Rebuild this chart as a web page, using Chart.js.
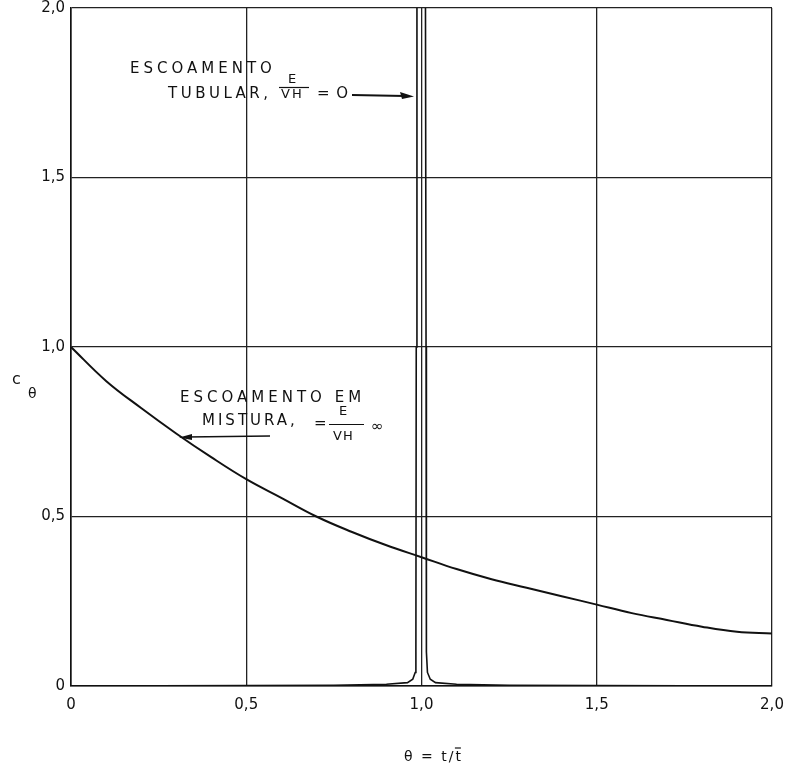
<!DOCTYPE html>
<html>
<head>
<meta charset="utf-8">
<script src="https://cdn.jsdelivr.net/npm/chart.js@4"></script>
<style>
  html, body { margin: 0; padding: 0; background: #fff; }
  #wrap { width: 791px; height: 770px; position: relative; }
</style>
</head>
<body>
<div id="wrap"><canvas id="c" width="791" height="770"></canvas></div>
<script>
// Mixed flow (E/VH = infinity) curve
const thetaMix = [0, 0.1, 0.2, 0.3, 0.4, 0.5, 0.6, 0.7, 0.8, 0.9, 1.0, 1.1, 1.2, 1.3, 1.4, 1.5, 1.6, 1.7, 1.8, 1.9, 2.0];
const cMix     = [1.0, 0.90, 0.82, 0.745, 0.675, 0.61, 0.555, 0.50, 0.455, 0.415, 0.38, 0.345, 0.315, 0.29, 0.265, 0.24, 0.215, 0.195, 0.175, 0.16, 0.155];

// Plug flow (E/VH = 0) spike around theta = 1
const thetaPlug = [0, 0.75, 0.9, 0.96, 0.975, 0.982, 0.984, 0.985, 0.987, 1.011, 1.013, 1.014, 1.017, 1.025, 1.04, 1.1, 1.25, 2.0];
const cPlug     = [0, 0.002, 0.005, 0.01, 0.02, 0.04, 0.1, 1.0, 2.2, 2.2, 1.0, 0.1, 0.04, 0.02, 0.01, 0.005, 0.002, 0];

const xTickLabels = ['0', '0,5', '1,0', '1,5', '2,0'];
const yTickLabels = ['0', '0,5', '1,0', '1,5', '2,0'];

const FONT = '"DejaVu Sans", sans-serif';

const annot = {
  id: 'annot',
  afterDraw(chart) {
    const ctx = chart.ctx;
    ctx.save();
    ctx.fillStyle = '#111';
    ctx.strokeStyle = '#111';
    ctx.textBaseline = 'middle';
    ctx.textAlign = 'left';
    ctx.font = '15px ' + FONT;
    ctx.letterSpacing = '4px';
    // upper annotation
    ctx.fillText('ESCOAMENTO', 130, 69);
    ctx.letterSpacing = '3.5px';
    ctx.fillText('TUBULAR,', 168, 94);
    ctx.letterSpacing = '2px';
    ctx.font = '13px ' + FONT;
    ctx.fillText('E', 288, 80);
    ctx.fillText('VH', 281, 95);
    ctx.lineWidth = 1.2;
    ctx.beginPath(); ctx.moveTo(279, 87.5); ctx.lineTo(309, 87.5); ctx.stroke();
    ctx.font = '15px ' + FONT;
    ctx.letterSpacing = '1px';
    ctx.fillText('= O', 317, 94);
    // arrow to spike
    ctx.lineWidth = 2;
    ctx.beginPath(); ctx.moveTo(352, 95); ctx.lineTo(405, 96); ctx.stroke();
    ctx.beginPath(); ctx.moveTo(414, 96.5); ctx.lineTo(400, 92); ctx.lineTo(402, 99); ctx.closePath(); ctx.fill();

    // lower annotation
    ctx.letterSpacing = '4px';
    ctx.font = '15px ' + FONT;
    ctx.fillText('ESCOAMENTO EM', 180, 398);
    ctx.letterSpacing = '3px';
    ctx.fillText('MISTURA,', 202, 421);
    ctx.letterSpacing = '1px';
    ctx.fillText('=', 314, 424);
    ctx.font = '13px ' + FONT;
    ctx.fillText('E', 339, 412);
    ctx.fillText('VH', 333, 437);
    ctx.lineWidth = 1.2;
    ctx.beginPath(); ctx.moveTo(329, 424.5); ctx.lineTo(364, 424.5); ctx.stroke();
    ctx.font = '15px ' + FONT;
    ctx.fillText('∞', 371, 427);
    // arrow pointing left
    ctx.lineWidth = 1.6;
    ctx.beginPath(); ctx.moveTo(270, 436); ctx.lineTo(186, 437); ctx.stroke();
    ctx.beginPath(); ctx.moveTo(179, 437.5); ctx.lineTo(192, 434); ctx.lineTo(192, 440); ctx.closePath(); ctx.fill();

    // y-axis title
    ctx.letterSpacing = '0px';
    ctx.font = '16px ' + FONT;
    ctx.fillText('c', 12, 380);
    ctx.font = '14px ' + FONT;
    ctx.fillText('θ', 28, 394);

    // x-axis title  θ = t/t̄
    ctx.textAlign = 'left';
    ctx.letterSpacing = '2px';
    ctx.font = '14px ' + FONT;
    const t1 = 'θ = t/';
    const x0 = 404;
    ctx.fillText(t1, x0, 757);
    const w1 = ctx.measureText(t1).width;
    ctx.fillText('t', x0 + w1, 757);
    const wt = ctx.measureText('t').width;
    ctx.lineWidth = 1.2;
    ctx.beginPath(); ctx.moveTo(x0 + w1 - 0.5, 748); ctx.lineTo(x0 + w1 + wt - 2, 748); ctx.stroke();
    ctx.restore();
  }
};

const chart = new Chart(document.getElementById('c'), {
  type: 'line',
  data: {
    datasets: [
      {
        label: 'mistura',
        data: thetaMix.map((x, i) => ({ x, y: cMix[i] })),
        borderColor: '#111',
        borderWidth: 2,
        pointRadius: 0,
        tension: 0.4,
        fill: false
      },
      {
        label: 'tubular',
        data: thetaPlug.map((x, i) => ({ x, y: cPlug[i] })),
        borderColor: '#111',
        borderWidth: 1.6,
        pointRadius: 0,
        tension: 0,
        fill: false
      }
    ]
  },
  options: {
    responsive: false,
    animation: false,
    events: [],
    layout: { padding: { top: 8, right: 19, left: 0, bottom: 0 } },
    plugins: { legend: { display: false }, tooltip: { enabled: false }, title: { display: false } },
    scales: {
      x: {
        type: 'linear',
        min: 0, max: 2,
        afterBuildTicks: (s) => { s.ticks = [0, 0.5, 1, 1.5, 2].map(v => ({ value: v })); },
        afterFit: (s) => { s.height = 84; s.paddingLeft = 0; s.paddingRight = 0; },
        ticks: {
          callback: (v, i) => xTickLabels[i],
          color: '#111',
          font: { family: FONT, size: 15 },
          padding: 10,
          maxRotation: 0
        },
        grid: { color: '#222', lineWidth: 1.3, drawTicks: false },
        border: { color: '#111', width: 1.6 }
      },
      y: {
        type: 'linear',
        min: 0, max: 2,
        afterBuildTicks: (s) => { s.ticks = [0, 0.5, 1, 1.5, 2].map(v => ({ value: v })); },
        afterFit: (s) => { s.width = 71; s.paddingTop = 0; s.paddingBottom = 0; },
        ticks: {
          callback: (v, i) => yTickLabels[i],
          color: '#111',
          font: { family: FONT, size: 15 },
          padding: 6
        },
        grid: { color: '#222', lineWidth: 1.3, drawTicks: false },
        border: { color: '#111', width: 1.6 }
      }
    }
  },
  plugins: [annot]
});
</script>
</body>
</html>
